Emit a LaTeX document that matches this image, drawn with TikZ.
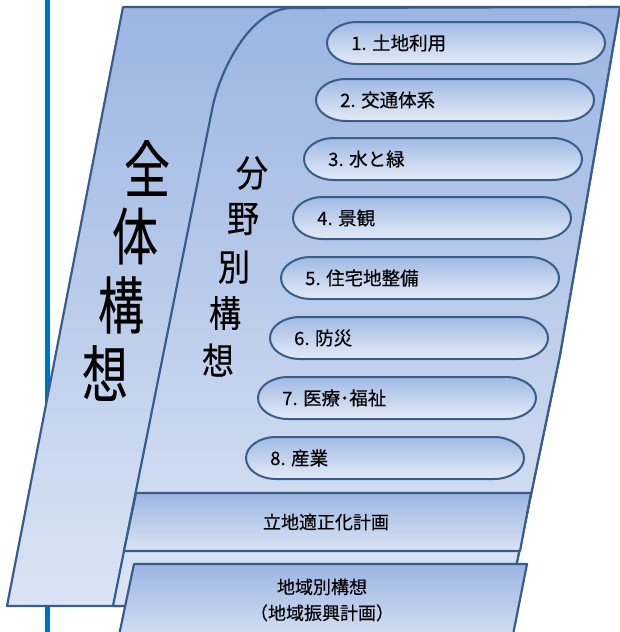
\documentclass[tikz,border=0pt]{standalone}
\usepackage{fontspec}
\setmainfont{Noto Sans CJK JP}
\newfontfamily\heavyjp[FakeBold=0.3]{Noto Sans CJK JP}
\usepackage{graphicx}
\definecolor{edge}{RGB}{56,93,138}
\definecolor{gtop}{RGB}{155,181,226}
\definecolor{gbot}{RGB}{219,228,244}
\definecolor{ptop}{RGB}{160,186,228}
\definecolor{pbot}{RGB}{228,235,247}
\definecolor{rulecol}{RGB}{0,112,192}
\newcommand\pillshape[4]{%
  \path[pill] (#2+30,#3) -- (#2+248,#3)
    arc[start angle=90,end angle=-90,x radius=30pt,y radius=21pt]
    -- (#2+30,#3+42)
    arc[start angle=270,end angle=90,x radius=30pt,y radius=21pt] -- cycle;
  \node[pilltext] (#1) at (#2+24,#3+21) {#4};%
}
\begin{document}
\begin{tikzpicture}[x=1pt,y=-1pt,
  band/.style={draw=edge,line width=2.2pt,top color=gtop,bottom color=gbot,line join=round},
  pill/.style={draw=edge,line width=2pt,top color=ptop,bottom color=pbot},
  pilltext/.style={font=\heavyjp\fontsize{18.5}{20}\selectfont,anchor=west,inner sep=0pt},
  boxtext/.style={font=\heavyjp\fontsize{18}{26}\selectfont,align=center,inner sep=0pt},
  bigch/.style={font=\heavyjp\fontsize{46}{46}\selectfont,inner sep=0pt},
  midch/.style={font=\heavyjp\fontsize{32}{32}\selectfont,inner sep=0pt},
  ruleline/.style={draw=rulecol,line width=5pt}]
\useasboundingbox (0,0) rectangle (620,632);
\clip (0,0) rectangle (620,632);
% vertical rule behind
\coordinate (rtop) at (47.5,0);
\coordinate (rbot) at (47.5,632);
\draw[ruleline] (rtop) -- (rbot);
% outer band (全体構想)
\path[band] (123,7) -- (620,7) -- (560,355) -- (517,562) -- (508,606) -- (7,606) -- cycle;
% inner region (分野別構想)
\path[band] (113,606) -- (212,110) .. controls (219,72) and (250,8) .. (292,8)
  -- (620,7) -- (560,355) -- (517,562) -- (508,606) -- cycle;
% pills
\pillshape{p1}{327}{22}{1. 土地利用}
\pillshape{p2}{316}{79}{2. 交通体系}
\pillshape{p3}{304}{138}{3. 水と緑}
\pillshape{p4}{293}{197}{4. 景観}
\pillshape{p5}{281}{257}{5. 住宅地整備}
\pillshape{p6}{270}{317}{6. 防災}
\pillshape{p7}{258}{377}{7. 医療･福祉}
\pillshape{p8}{246}{437}{8. 産業}
% 立地適正化計画 box
\path[band] (136,493) -- (531,493) -- (520,551) -- (124,551) -- cycle;
% 地域別構想 box
\path[band] (134,564) -- (527,564) -- (511,645) -- (117,645) -- cycle;
% texts
\node[boxtext] (ritchi) at (326,522) {立地適正化計画};
\node[boxtext] (chiiki) at (322,600) {地域別構想\\（地域振興計画）};
\node[bigch] (z1) at (147,168) {\scalebox{1}[1.35]{全}};
\node[bigch] (z2) at (135,236) {\scalebox{1}[1.35]{体}};
\node[bigch] (z3) at (121,305) {\scalebox{1}[1.35]{構}};
\node[bigch] (z4) at (105,373) {\scalebox{1}[1.35]{想}};
\node[midch] (b1) at (252,173) {\scalebox{1}[1.15]{分}};
\node[midch] (b2) at (243,219) {\scalebox{1}[1.15]{野}};
\node[midch] (b3) at (234,267) {\scalebox{1}[1.15]{別}};
\node[midch] (b4) at (225,313) {\scalebox{1}[1.15]{構}};
\node[midch] (b5) at (218,360) {\scalebox{1}[1.15]{想}};
\end{tikzpicture}
\end{document}
